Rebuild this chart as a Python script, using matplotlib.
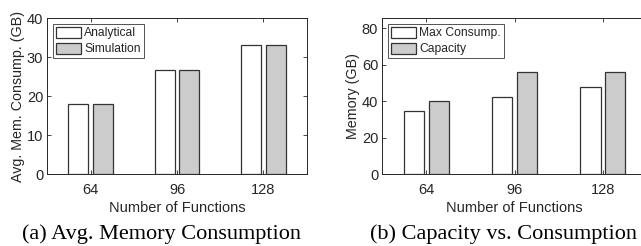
import matplotlib
matplotlib.use("Agg")
import matplotlib.pyplot as plt
import numpy as np

categories = ["64", "96", "128"]
analytical = [18.1, 26.8, 33.1]
simulation = [18.1, 26.8, 33.2]
max_consump = [34.5, 42.4, 47.7]
capacity = [40.0, 56.0, 56.0]

TXT = "#262626"
GRAY = "#cccccc"
EDGE = "#333333"
plt.rcParams['font.family'] = ['Liberation Sans', 'DejaVu Sans']

fig = plt.figure(figsize=(6.41, 2.46), dpi=100)
ax1 = fig.add_axes([47.3/641, 71.7/246, 259.4/641, 156/246])
ax2 = fig.add_axes([382.3/641, 71.7/246, 264.7/641, 156/246])

x = np.arange(1, len(categories) + 1)
w = 0.23
off = 0.14

def style(ax, ylim, yticks, ylabel):
    ax.set_xlim(0.5, 3.5)
    ax.set_ylim(*ylim)
    ax.set_xticks(x)
    ax.set_xticklabels(categories)
    ax.set_yticks(yticks)
    ax.tick_params(direction='in', top=True, right=True, length=3, width=0.6,
                   labelsize=10.5, colors=TXT, labelcolor=TXT)
    ax.tick_params(axis='x', pad=6.5)
    ax.tick_params(axis='y', pad=3)
    for s in ax.spines.values():
        s.set_linewidth(0.7)
        s.set_color(TXT)
    ax.set_xlabel("Number of Functions", fontsize=10.5, color=TXT, labelpad=3)
    ax.set_ylabel(ylabel, fontsize=10.3, color=TXT, labelpad=1)

ax1.bar(x - off, analytical, w, color='white', edgecolor=EDGE, linewidth=0.9, label='Analytical')
ax1.bar(x + off, simulation, w, color=GRAY, edgecolor=EDGE, linewidth=0.9, label='Simulation')
style(ax1, (0, 40), [0, 10, 20, 30, 40], "Avg. Mem. Consump. (GB)")

ax2.bar(x - off, max_consump, w, color='white', edgecolor=EDGE, linewidth=0.9, label='Max Consump.')
ax2.bar(x + off, capacity, w, color=GRAY, edgecolor=EDGE, linewidth=0.9, label='Capacity')
style(ax2, (0, 85.5), [0, 20, 40, 60, 80], "Memory (GB)")

for ax in (ax1, ax2):
    leg = ax.legend(loc='upper left', fontsize=8.7, frameon=True, fancybox=False,
                    borderaxespad=0.45, handlelength=2.1, handleheight=1.0,
                    handletextpad=0.25, labelspacing=0.3, borderpad=0.25)
    leg.get_frame().set_edgecolor(TXT)
    leg.get_frame().set_linewidth(0.7)
    for t in leg.get_texts():
        t.set_color(TXT)

fig.text(162/641, 12/246, "(a) Avg. Memory Consumption", ha='center', va='center',
         fontsize=16, family='Liberation Serif', color='black')
fig.text(503/641, 12/246, "(b) Capacity vs. Consumption", ha='center', va='center',
         fontsize=16, family='Liberation Serif', color='black')

fig.savefig("out.png", dpi=100)
